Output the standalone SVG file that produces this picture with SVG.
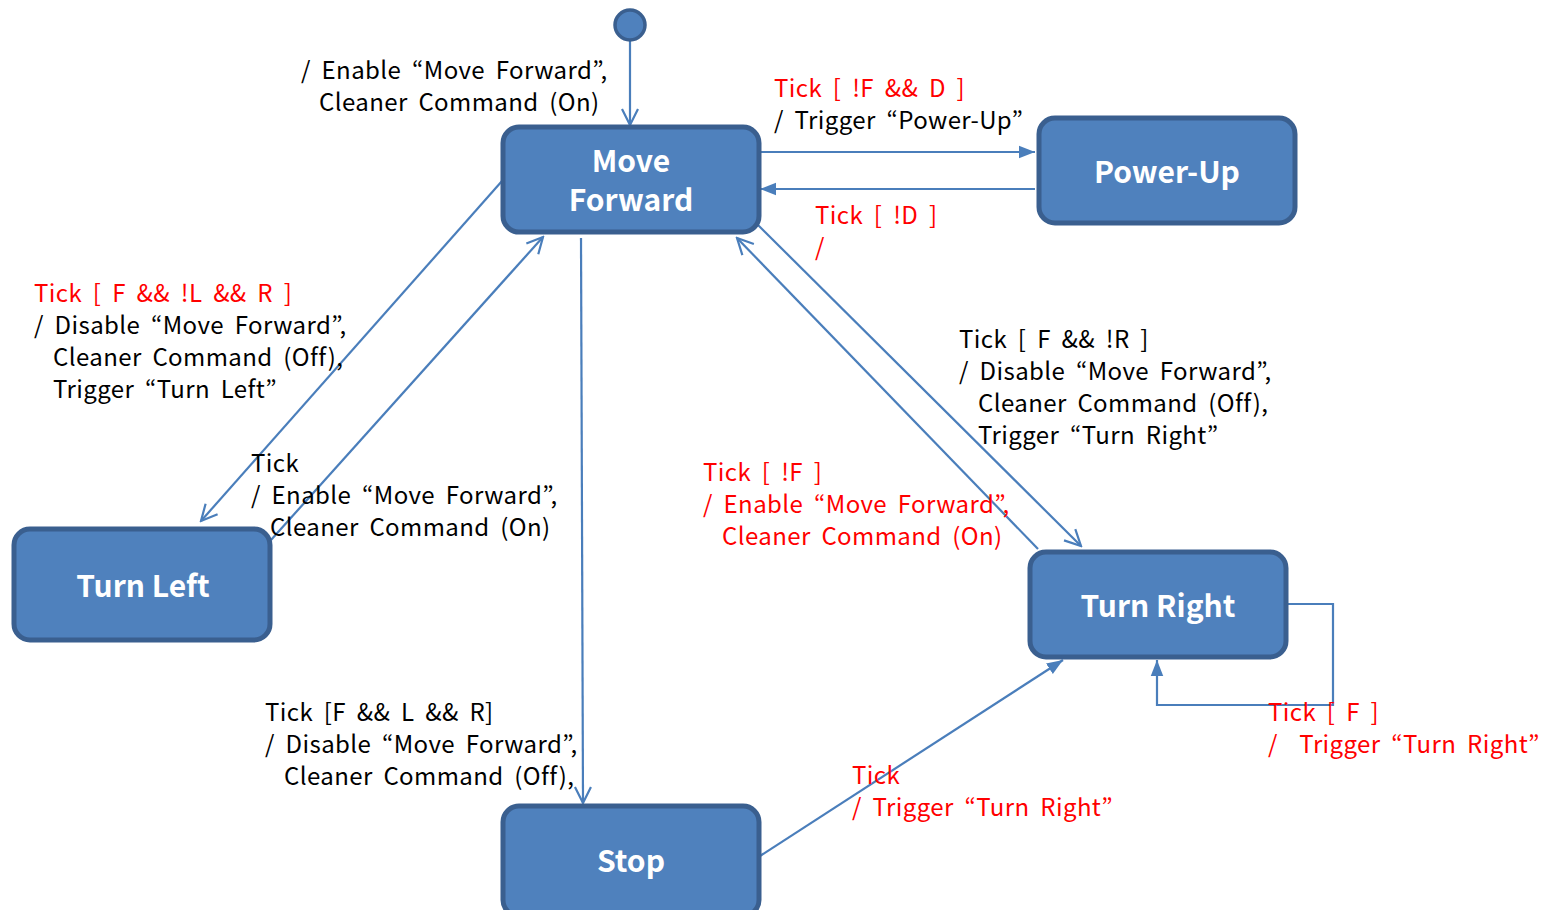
<svg xmlns="http://www.w3.org/2000/svg" width="1551" height="910" viewBox="0 0 1551 910">
<defs>
<style>
.node rect{fill:#4F81BD;stroke:#3A5F8F;stroke-width:5}
.node text{font-family:"Noto Sans CJK KR","Noto Sans",sans-serif;font-size:30px;font-weight:bold;fill:#fff;text-anchor:middle}
.conn path{fill:none;stroke:#4A7EBB;stroke-width:2.2}
.lbl{font-family:"Noto Sans CJK KR","Noto Sans",sans-serif;font-size:24px;word-spacing:5px;letter-spacing:0.4px;fill:#000}
.red{fill:#FF0000}
</style>
<marker id="open" viewBox="0 0 20 20" refX="18" refY="10" markerWidth="20" markerHeight="20" markerUnits="userSpaceOnUse" orient="auto">
<path d="M2,2 L18,10 L2,18" fill="none" stroke="#4A7EBB" stroke-width="2.2"/>
</marker>
<marker id="fill" viewBox="0 0 20 20" refX="18" refY="10" markerWidth="18" markerHeight="18" markerUnits="userSpaceOnUse" orient="auto">
<path d="M0,3 L18,10 L0,17 Z" fill="#4A7EBB"/>
</marker>
</defs>
<rect width="1551" height="910" fill="#fff"/>
<g class="conn">
<path d="M630,41 L630,125" marker-end="url(#open)"/>
<path d="M760,152 L1035,152" marker-end="url(#fill)"/>
<path d="M1035,189 L760,189" marker-end="url(#fill)"/>
<path d="M502,181 L201,521" marker-end="url(#open)"/>
<path d="M271,540 L543,237" marker-end="url(#open)"/>
<path d="M581,238 L583,803" marker-end="url(#open)"/>
<path d="M758,225 L1081,546" marker-end="url(#open)"/>
<path d="M1038,549 L737,238" marker-end="url(#open)"/>
<path d="M760,856 L1063,660" marker-end="url(#fill)"/>
<path d="M1287,604 L1333,604 L1333,705 L1157,705 L1157,660" marker-end="url(#fill)"/>
</g>
<g id="initial"><circle cx="630" cy="25" r="15" fill="#4F81BD" stroke="#3A5F8F" stroke-width="3.5"/></g>
<g id="move-forward" class="node"><rect x="503" y="127" width="256" height="105" rx="16"/><text x="631" y="172">Move<tspan x="631" y="211">Forward</tspan></text></g>
<g id="power-up" class="node"><rect x="1039" y="118" width="256" height="105" rx="16"/><text x="1167" y="183">Power-Up</text></g>
<g id="turn-left" class="node"><rect x="14" y="529" width="256" height="111" rx="16"/><text x="143" y="597">Turn Left</text></g>
<g id="turn-right" class="node"><rect x="1030" y="552" width="256" height="105" rx="16"/><text x="1158" y="617">Turn Right</text></g>
<g id="stop" class="node"><rect x="503" y="806" width="256" height="110" rx="16"/><text x="631" y="872">Stop</text></g>
<g id="labels" class="lbl">
<text x="301" y="79">/ Enable “Move Forward”,</text>
<text x="319" y="111">Cleaner Command (On)</text>
<text x="774" y="97" class="red">Tick [ !F &amp;&amp; D ]</text>
<text x="774" y="129">/ Trigger “Power-Up”</text>
<text x="815" y="224" class="red">Tick [ !D ]</text>
<text x="815" y="256" class="red">/</text>
<text x="34" y="302" class="red">Tick [ F &amp;&amp; !L &amp;&amp; R ]</text>
<text x="34" y="334">/ Disable “Move Forward”,</text>
<text x="53" y="366">Cleaner Command (Off),</text>
<text x="53" y="398">Trigger “Turn Left”</text>
<text x="251" y="472">Tick</text>
<text x="251" y="504">/ Enable “Move Forward”,</text>
<text x="270" y="536">Cleaner Command (On)</text>
<text x="959" y="348">Tick [ F &amp;&amp; !R ]</text>
<text x="959" y="380">/ Disable “Move Forward”,</text>
<text x="978" y="412">Cleaner Command (Off),</text>
<text x="978" y="444">Trigger “Turn Right”</text>
<text x="703" y="481" class="red">Tick [ !F ]</text>
<text x="703" y="513" class="red">/ Enable “Move Forward”,</text>
<text x="722" y="545" class="red">Cleaner Command (On)</text>
<text x="265" y="721">Tick [F &amp;&amp; L &amp;&amp; R]</text>
<text x="265" y="753">/ Disable “Move Forward”,</text>
<text x="284" y="785">Cleaner Command (Off),</text>
<text x="852" y="784" class="red">Tick</text>
<text x="852" y="816" class="red">/ Trigger “Turn Right”</text>
<text x="1268" y="721" class="red">Tick [ F ]</text>
<text x="1268" y="753" class="red" xml:space="preserve">/  Trigger “Turn Right”</text>
</g>
</svg>
